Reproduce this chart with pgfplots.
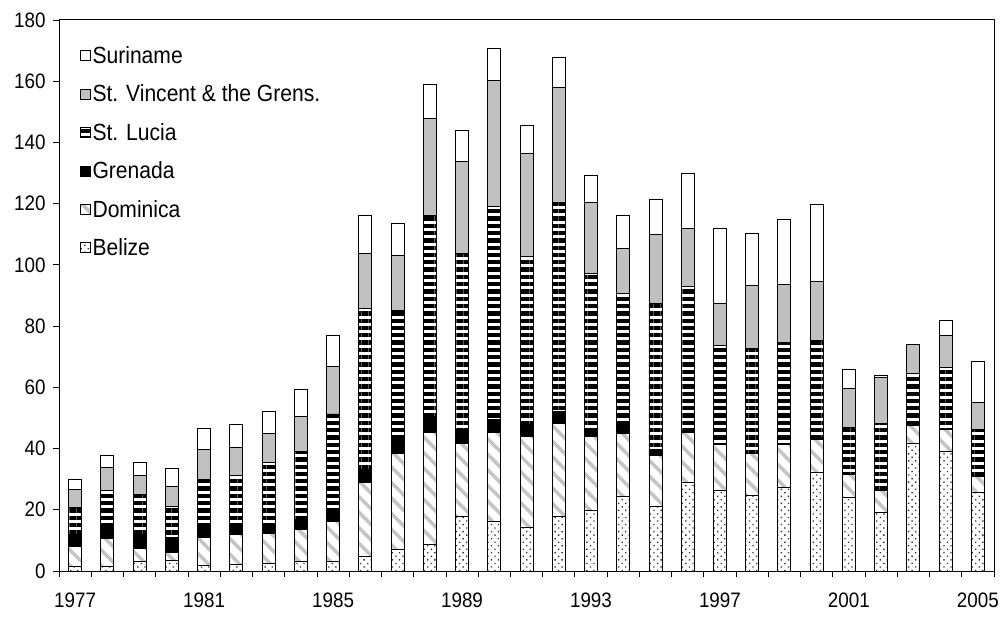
\documentclass[border=0pt]{standalone}
\usepackage{fontspec}
\setmainfont{Liberation Sans}[FakeStretch=0.9]
\usepackage{pgfplots}
\usepackage{pgfplotstable}
\pgfplotsset{compat=1.18}
\usetikzlibrary{patterns.meta}

\definecolor{stvgray}{HTML}{C0C0C0}
\definecolor{domgray}{HTML}{C4C4C4}

% year index, Belize, Dominica, Grenada, St. Lucia, St. Vincent, Suriname
\pgfplotstableread{
x  bel  dom  gre  stl  stv  sur
0  1.4  6.7  3.8  9.0  5.8  3.2
1  1.5  9.2  3.6  12.0 7.5  3.8
2  3.2  4.2  4.5  13.2 6.2  4.1
3  3.6  2.5  4.7  10.4 6.5  5.9
4  1.9  9.1  4.2  14.6 9.9  7.0
5  2.2  9.6  3.8  15.7 8.9  7.6
6  2.4  9.9  3.3  19.7 9.5  7.4
7  3.1  10.5 3.2  22.1 11.5 8.9
8  3.1  13.2 3.5  31.5 15.6 10.1
9  4.6  24.3 4.3  52.5 18.1 12.5
10 7.1  31.4 4.3  42.3 18.1 10.4
11 8.6  36.8 5.1  65.8 31.5 11.3
12 17.9 23.8 4.4  57.7 30.0 10.2
13 16.1 29.3 4.2  69.4 41.2 10.4
14 14.1 29.8 3.9  54.8 33.8 9.1
15 17.9 30.4 3.8  68.3 37.6 9.8
16 19.9 24.0 2.8  50.6 23.1 8.7
17 24.5 20.3 2.7  43.1 14.9 10.8
18 21.0 16.6 2.2  47.6 22.5 11.6
19 28.9 16.3 0.6  47.1 19.1 17.9
20 26.2 15.2 0.2  32.1 13.6 24.5
21 24.8 13.5 0    34.4 20.6 17.0
22 27.3 14.1 0    33.1 19.2 21.1
23 32.1 11.0 0.5  31.7 19.2 25.1
24 24.0 7.4  0    15.5 12.6 6.3
25 19.0 7.2  0    21.9 15.0 0.7
26 41.7 6.0  0    16.7 9.7  0
27 39.0 7.3  0    20.3 10.3 5.1
28 25.6 5.2  0    15.5 8.8  13.4
}\datatable

\begin{document}
\begin{tikzpicture}
\useasboundingbox (-59bp,-49bp) rectangle (944bp,571bp);
\begin{axis}[
    at={(0,0)}, anchor=south west,
    scale only axis,
    width=935bp, height=551bp,
    ybar stacked,
    bar width=13bp,
    xmin=-0.5, xmax=28.5,
    ymin=0, ymax=180,
    ytick={0,20,...,180},
    xtick={0,4,...,28},
    xticklabels={1977,1981,1985,1989,1993,1997,2001,2005},
    minor xtick={-0.5,0.5,...,28.5},
    major x tick style={draw=none},
    tick pos=left,
    tick align=outside,
    major tick length=6bp,
    minor tick length=6bp,
    every tick/.style={black, line width=0.8pt},
    axis line style={black, line width=1pt},
    tick label style={font=\fontsize{21}{24}\selectfont},
    /pgf/number format/assume math mode=true,
    yticklabel style={xshift=-4bp},
    xticklabel style={yshift=-12bp},
    legend cell align=left,
    reverse legend,
    legend style={
        at={(0.022,0.956)}, anchor=north west,
        draw=none, fill=none,
        font=\fontsize{23.5}{26}\selectfont,
        row sep=16bp,
        inner xsep=0pt, inner ysep=0pt,
        /tikz/every even column/.append style={column sep=3bp},
    },
    legend image code/.code={
        \draw[#1, line width=0.8pt] (0bp,-5bp) rectangle (10bp,5bp);
    },
    every axis plot/.append style={draw=black, line width=0.9pt},
]
\addplot[pattern={Dots[radius=0.95bp, distance=5bp, angle=45]}, pattern color=black!80]
    table[x=x, y=bel] {\datatable};
\addplot[pattern={Lines[angle=-45, distance=11bp, line width=3.5bp]}, pattern color=domgray]
    table[x=x, y=dom] {\datatable};
\addplot[fill=black]
    table[x=x, y=gre] {\datatable};
\addplot[pattern={Lines[angle=0, distance=7.3bp, line width=4.3bp]}, pattern color=black]
    table[x=x, y=stl] {\datatable};
\addplot[fill=stvgray]
    table[x=x, y=stv] {\datatable};
\addplot[fill=white]
    table[x=x, y=sur] {\datatable};
\legend{Belize, Dominica, Grenada, St. Lucia, St. Vincent \& the Grens., Suriname}
\end{axis}
\end{tikzpicture}
\end{document}
